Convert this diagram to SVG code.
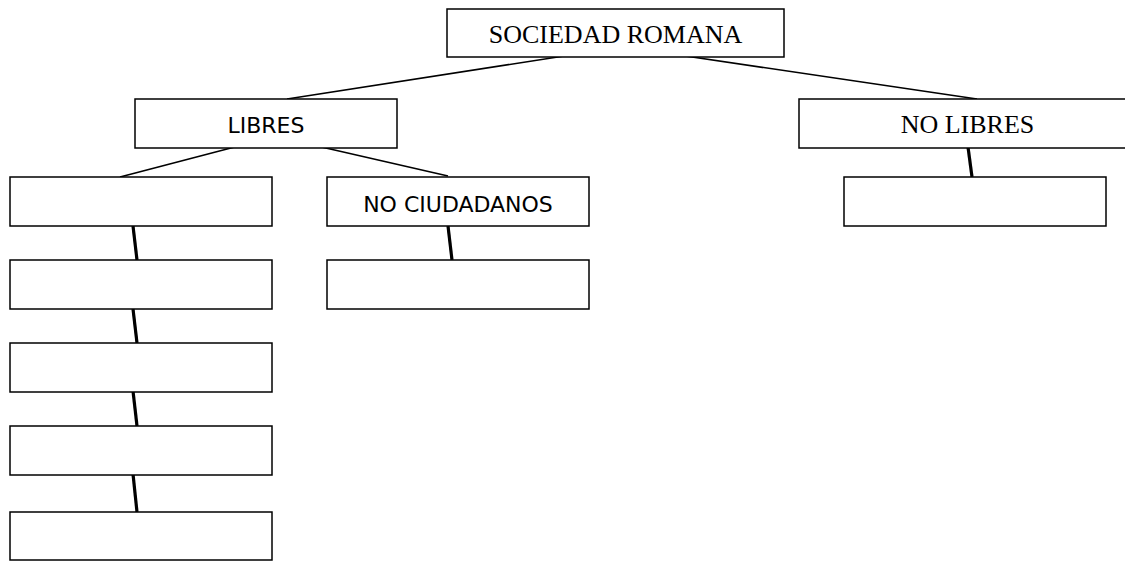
<svg xmlns="http://www.w3.org/2000/svg" width="1125" height="561" viewBox="0 0 1125 561">
<style>
.box{fill:#fff;stroke:#000;stroke-width:1.5}
.thin{stroke:#000;stroke-width:1.6;fill:none}
.thick{stroke:#000;stroke-width:3.2;fill:none}
.serif{font-family:"Liberation Serif","Times New Roman",serif;font-size:26px;fill:#000;text-anchor:middle}
.sans{font-family:"DejaVu Sans",Verdana,sans-serif;font-size:22px;fill:#000;text-anchor:middle}
</style>
<rect width="1125" height="561" fill="#fff"/>
<g id="connectors">
<line class="thin" x1="577" y1="54" x2="287" y2="99"/>
<line class="thin" x1="672" y1="54" x2="977" y2="99"/>
<line class="thin" x1="250" y1="143" x2="120" y2="177"/>
<line class="thin" x1="304" y1="143" x2="448" y2="176"/>
<line class="thick" x1="133" y1="226" x2="137" y2="260"/>
<line class="thick" x1="133" y1="309" x2="137" y2="343"/>
<line class="thick" x1="133" y1="391" x2="137" y2="426"/>
<line class="thick" x1="133" y1="474" x2="137" y2="512"/>
<line class="thick" x1="448" y1="226" x2="452" y2="260"/>
<line class="thick" x1="968" y1="147" x2="972" y2="177"/>
</g>
<g id="n-sociedad"><rect class="box" x="447" y="9" width="337" height="48"/><text class="serif" x="615.5" y="43">SOCIEDAD ROMANA</text></g>
<g id="n-libres"><rect class="box" x="135" y="99" width="262" height="49"/><text class="sans" x="266" y="133">LIBRES</text></g>
<g id="n-nolibres"><rect class="box" x="799" y="99" width="340" height="49"/><text class="serif" x="967.5" y="133">NO LIBRES</text></g>
<g id="n-l1"><rect class="box" x="10" y="177" width="262" height="49"/></g>
<g id="n-l2"><rect class="box" x="10" y="260" width="262" height="49"/></g>
<g id="n-l3"><rect class="box" x="10" y="343" width="262" height="49"/></g>
<g id="n-l4"><rect class="box" x="10" y="426" width="262" height="49"/></g>
<g id="n-l5"><rect class="box" x="10" y="512" width="262" height="48"/></g>
<g id="n-nociud"><rect class="box" x="327" y="177" width="262" height="49"/><text class="sans" x="458" y="212">NO CIUDADANOS</text></g>
<g id="n-nociud2"><rect class="box" x="327" y="260" width="262" height="49"/></g>
<g id="n-nolibres2"><rect class="box" x="844" y="177" width="262" height="49"/></g>
</svg>
